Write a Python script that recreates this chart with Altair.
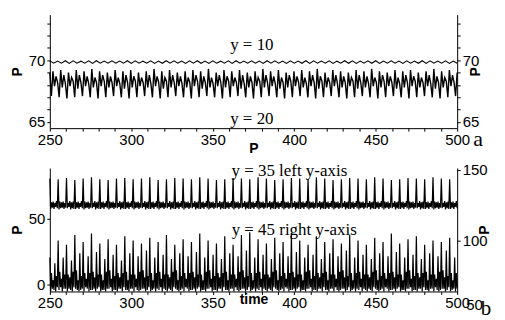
import altair as alt
import numpy as np
import pandas as pd

# ---------------- data ----------------
x_ticks = list(range(250, 501, 10))
top_y_ticks = list(range(65, 74))
bottom_left_ticks = [0, 50]
bottom_right_ticks = [100, 150]

# panel a, series y = 10 (small wiggle near 69.85)
p_y10 = [69.95, 69.76, 69.94, 69.77, 69.96, 69.75, 69.95, 69.77, 69.93, 69.76,
         69.95, 69.75, 69.96, 69.77, 69.94, 69.76, 69.95, 69.76, 69.94, 69.77,
         69.96, 69.75, 69.95, 69.76, 69.93, 69.77, 69.95, 69.75, 69.94, 69.76,
         69.96, 69.77, 69.95, 69.76, 69.94, 69.75, 69.95, 69.77, 69.96, 69.76,
         69.94, 69.75, 69.95, 69.77, 69.93, 69.76, 69.95, 69.75, 69.96, 69.77,
         69.94, 69.76, 69.95, 69.76, 69.94, 69.75, 69.96, 69.77, 69.95, 69.76,
         69.93, 69.75, 69.95, 69.77, 69.94, 69.76, 69.96, 69.75, 69.95, 69.77,
         69.94, 69.76, 69.95, 69.75, 69.93, 69.77, 69.96, 69.76, 69.95, 69.75,
         69.94, 69.77, 69.95, 69.76, 69.96, 69.75, 69.94, 69.77, 69.95, 69.76,
         69.93, 69.75, 69.95, 69.77, 69.94, 69.76, 69.96, 69.75, 69.95, 69.77,
         69.94, 69.76, 69.95, 69.75, 69.94, 69.76]

# panel a, series y = 20 (oscillation between ~67 and ~69.2)
p_y20 = [69.0, 67.1, 69.1, 67.9, 68.7, 68.2,
         67.0, 69.2, 67.8, 68.8, 68.1,
         66.9, 69.0, 67.9, 68.6, 68.3,
         67.0, 69.2, 67.7, 68.8, 68.2,
         67.1, 69.1, 67.9, 68.7, 68.1,
         67.0, 69.3, 67.8, 68.6, 68.2,
         66.9, 69.1, 67.9, 68.8, 68.3,
         67.0, 69.0, 67.8, 68.7, 68.2,
         67.1, 69.2, 67.9, 68.6, 68.1,
         67.0, 69.1, 67.7, 68.8, 68.2,
         66.9, 69.2, 67.8, 68.7, 68.3,
         67.0, 69.0, 67.9, 68.6, 68.2,
         67.1, 69.1, 67.8, 68.8, 68.1,
         67.0, 69.3, 67.9, 68.7, 68.2,
         66.9, 69.1, 67.7, 68.6, 68.3,
         67.0, 69.2, 67.8, 68.8, 68.2,
         67.1, 69.0, 67.9, 68.7, 68.1,
         67.0, 69.1, 67.8, 68.6, 68.2,
         66.9, 69.2, 67.9, 68.8, 68.3,
         67.0, 69.1, 67.7, 68.7, 68.2,
         67.1, 69.3, 67.8, 68.6, 68.1,
         67.0, 69.0, 67.9, 68.8, 68.2,
         66.9, 69.2, 67.8, 68.7, 68.3,
         67.0, 69.1, 67.9, 68.6, 68.2,
         67.1, 69.2, 67.7, 68.8, 68.1,
         67.0, 69.0, 67.8, 68.7, 68.2,
         66.9, 69.1, 67.9, 68.6, 68.3,
         67.0, 69.3, 67.8, 68.8, 68.2,
         67.1, 69.1, 67.9, 68.7, 68.1,
         67.0, 69.2, 67.7, 68.6, 68.2,
         66.9, 69.0, 67.8, 68.8, 68.3,
         67.0, 69.1, 67.9, 68.7, 68.2,
         67.1, 69.2, 67.8, 68.6, 68.1,
         67.0, 69.1, 67.9, 68.8, 68.2,
         66.9, 69.3, 67.7, 68.7, 68.3,
         67.0, 69.0, 67.8, 68.6, 68.2,
         67.1, 69.2, 67.9, 68.8, 68.1,
         67.0, 69.1, 67.8, 68.7, 68.2,
         66.9, 69.0, 67.9, 68.6, 68.3,
         67.0, 69.2, 67.7, 68.8, 68.2,
         67.1, 69.1, 67.8, 68.7, 68.1,
         67.0, 69.3, 67.9, 68.6, 68.2,
         66.9, 69.1, 67.8, 68.8, 68.3,
         67.0, 69.0, 67.9, 68.7, 68.2,
         67.1, 69.2, 67.7, 68.6, 68.1,
         67.0, 69.1, 67.8, 68.8, 68.2,
         66.9, 69.2, 67.9, 68.7, 68.3,
         67.0, 69.0, 67.8, 68.6, 68.2,
         67.1, 69.1, 67.9, 68.8, 68.1,
         67.0, 69.3, 67.7, 68.7, 68.2,
         66.9, 69.1, 67.8, 68.6, 68.3,
         67.0, 69.2, 67.9, 68.8, 68.2,
         67.1, 69.0]

# panel b, series y = 35 (left axis): thin spikes to ~80 over a 57-63 band
p_y35 = [
    80.5, 57.5, 62.5, 58.5, 63.0, 57.5, 62.0, 59.0, 63.5, 58.0,
    80.0, 57.0, 63.0, 58.0, 62.5, 58.5, 63.0, 57.5, 62.0, 58.5,
    81.0, 58.0, 62.0, 59.0, 63.5, 57.0, 62.5, 58.0, 63.0, 57.5,
    79.5, 57.5, 62.5, 58.5, 63.0, 57.5, 62.0, 59.0, 63.5, 58.0,
    80.5, 57.0, 63.0, 58.0, 62.5, 58.5, 63.0, 57.5, 62.0, 58.5,
    81.5, 58.0, 62.0, 59.0, 63.5, 57.0, 62.5, 58.0, 63.0, 57.5,
    80.0, 57.5, 62.5, 58.5, 63.0, 57.5, 62.0, 59.0, 63.5, 58.0,
    79.5, 57.0, 63.0, 58.0, 62.5, 58.5, 63.0, 57.5, 62.0, 58.5,
    80.5, 58.0, 62.0, 59.0, 63.5, 57.0, 62.5, 58.0, 63.0, 57.5,
    81.0, 57.5, 62.5, 58.5, 63.0, 57.5, 62.0, 59.0, 63.5, 58.0,
    80.0, 57.0, 63.0, 58.0, 62.5, 58.5, 63.0, 57.5, 62.0, 58.5,
    80.5, 58.0, 62.0, 59.0, 63.5, 57.0, 62.5, 58.0, 63.0, 57.5,
    81.5, 57.5, 62.5, 58.5, 63.0, 57.5, 62.0, 59.0, 63.5, 58.0,
    79.5, 57.0, 63.0, 58.0, 62.5, 58.5, 63.0, 57.5, 62.0, 58.5,
    80.0, 58.0, 62.0, 59.0, 63.5, 57.0, 62.5, 58.0, 63.0, 57.5,
    81.0, 57.5, 62.5, 58.5, 63.0, 57.5, 62.0, 59.0, 63.5, 58.0,
    80.5, 57.0, 63.0, 58.0, 62.5, 58.5, 63.0, 57.5, 62.0, 58.5,
    80.0, 58.0, 62.0, 59.0, 63.5, 57.0, 62.5, 58.0, 63.0, 57.5,
    81.5, 57.5, 62.5, 58.5, 63.0, 57.5, 62.0, 59.0, 63.5, 58.0,
    80.5, 57.0, 63.0, 58.0, 62.5, 58.5, 63.0, 57.5, 62.0, 58.5,
    79.5, 58.0, 62.0, 59.0, 63.5, 57.0, 62.5, 58.0, 63.0, 57.5,
    80.0, 57.5, 62.5, 58.5, 63.0, 57.5, 62.0, 59.0, 63.5, 58.0,
    81.0, 57.0, 63.0, 58.0, 62.5, 58.5, 63.0, 57.5, 62.0, 58.5,
    80.5, 58.0, 62.0, 59.0, 63.5, 57.0, 62.5, 58.0, 63.0, 57.5,
    80.0, 57.5, 62.5, 58.5, 63.0, 57.5, 62.0, 59.0, 63.5, 58.0,
    81.5, 57.0, 63.0, 58.0, 62.5, 58.5, 63.0, 57.5, 62.0, 58.5,
    80.5, 58.0, 62.0, 59.0, 63.5, 57.0, 62.5, 58.0, 63.0, 57.5,
    79.5, 57.5, 62.5, 58.5, 63.0, 57.5, 62.0, 59.0, 63.5, 58.0,
    80.0, 57.0, 63.0, 58.0, 62.5, 58.5, 63.0, 57.5, 62.0, 58.5,
    81.0, 58.0, 62.0, 59.0, 63.5, 57.0, 62.5, 58.0, 63.0, 57.5,
    80.5, 57.5, 62.5, 58.5, 63.0, 57.5, 62.0, 59.0, 63.5, 58.0,
    80.0, 57.0, 63.0, 58.0, 62.5, 58.5, 63.0, 57.5, 62.0, 58.5,
    81.5, 58.0, 62.0, 59.0, 63.5, 57.0, 62.5, 58.0, 63.0, 57.5,
    80.5, 57.5, 62.5, 58.5, 63.0, 57.5, 62.0, 59.0, 63.5, 58.0,
    79.5, 57.0, 63.0, 58.0, 62.5, 58.5, 63.0, 57.5, 62.0, 58.5,
    80.0, 58.0, 62.0, 59.0, 63.5, 57.0, 62.5, 58.0, 63.0, 57.5,
    81.0, 57.5, 62.5, 58.5, 63.0, 57.5, 62.0, 59.0, 63.5, 58.0,
    80.5, 57.0, 63.0, 58.0, 62.5, 58.5, 63.0, 57.5, 62.0, 58.5,
    80.0, 58.0, 62.0, 59.0, 63.5, 57.0, 62.5, 58.0, 63.0, 57.5,
    81.5, 57.5, 62.5, 58.5, 63.0, 57.5, 62.0, 59.0, 63.5, 58.0,
    80.5, 57.0, 63.0, 58.0, 62.5, 58.5, 63.0, 57.5, 62.0, 58.5,
    79.5, 58.0, 62.0, 59.0, 63.5, 57.0, 62.5, 58.0, 63.0, 57.5,
    80.0, 57.5, 62.5, 58.5, 63.0, 57.5, 62.0, 59.0, 63.5, 58.0,
    81.0, 57.0, 63.0, 58.0, 62.5, 58.5, 63.0, 57.5, 62.0, 58.5,
    80.5, 58.0, 62.0, 59.0, 63.5, 57.0, 62.5, 58.0, 63.0, 57.5,
    80.0, 57.5, 62.5, 58.5, 63.0, 57.5, 62.0, 59.0, 63.5, 58.0,
    81.5, 57.0, 63.0, 58.0, 62.5, 58.5, 63.0, 57.5, 62.0, 58.5,
    80.5, 58.0, 62.0, 59.0, 63.5, 57.0, 62.5, 58.0, 63.0, 57.5,
    80.0, 57.5, 62.5, 58.5, 63.0, 57.5, 62.0, 59.0, 63.5, 58.0,
]

# panel b, series y = 45 (right axis): tall and medium spikes over a 64-80 band
p_y45 = [
    88, 64, 77, 66, 72, 65, 84, 64, 75, 67,
    100, 65, 78, 67, 73, 64, 88, 66, 76, 66,
    97, 64, 76, 66, 74, 65, 86, 64, 78, 67,
    104, 66, 79, 65, 72, 64, 91, 65, 75, 66,
    99, 64, 77, 67, 73, 66, 89, 64, 77, 65,
    105, 65, 78, 66, 74, 64, 92, 66, 76, 67,
    98, 64, 76, 65, 72, 65, 87, 64, 78, 66,
    101, 66, 79, 67, 73, 64, 90, 65, 75, 65,
    97, 64, 77, 66, 74, 66, 86, 64, 77, 67,
    103, 65, 78, 65, 72, 64, 91, 66, 76, 66,
    100, 64, 76, 67, 73, 65, 89, 64, 78, 65,
    98, 66, 79, 66, 74, 64, 93, 65, 75, 67,
    102, 64, 77, 65, 72, 66, 88, 64, 77, 66,
    99, 65, 78, 67, 73, 64, 90, 66, 76, 65,
    104, 64, 76, 66, 74, 65, 87, 64, 78, 67,
    97, 66, 79, 65, 72, 64, 91, 65, 75, 66,
    101, 64, 77, 67, 73, 66, 89, 64, 77, 65,
    99, 65, 78, 66, 74, 64, 92, 66, 76, 67,
    105, 64, 76, 65, 72, 65, 88, 64, 78, 66,
    100, 66, 79, 67, 73, 64, 90, 65, 75, 65,
    98, 64, 77, 66, 74, 66, 87, 64, 77, 67,
    103, 65, 78, 65, 72, 64, 91, 66, 76, 66,
    97, 64, 76, 67, 73, 65, 89, 64, 78, 65,
    104, 66, 79, 66, 74, 64, 93, 65, 75, 67,
    106, 64, 77, 65, 72, 66, 88, 64, 77, 66,
    101, 65, 78, 67, 73, 64, 90, 66, 76, 65,
    98, 64, 76, 66, 74, 65, 87, 64, 78, 67,
    102, 66, 79, 65, 72, 64, 91, 65, 75, 66,
    99, 64, 77, 67, 73, 66, 89, 64, 77, 65,
    105, 65, 78, 66, 74, 64, 92, 66, 76, 67,
    100, 64, 76, 65, 72, 65, 88, 64, 78, 66,
    97, 66, 79, 67, 73, 64, 90, 65, 75, 65,
    103, 64, 77, 66, 74, 66, 87, 64, 77, 67,
    99, 65, 78, 65, 72, 64, 91, 66, 76, 66,
    101, 64, 76, 67, 73, 65, 89, 64, 78, 65,
    98, 66, 79, 66, 74, 64, 93, 65, 75, 67,
    104, 64, 77, 65, 72, 66, 88, 64, 77, 66,
    100, 65, 78, 67, 73, 64, 90, 66, 76, 65,
    97, 64, 76, 66, 74, 65, 87, 64, 78, 67,
    102, 66, 79, 65, 72, 64, 91, 65, 75, 66,
    99, 64, 77, 67, 73, 66, 89, 64, 77, 65,
    105, 65, 78, 66, 74, 64, 92, 66, 76, 67,
    98, 64, 76, 65, 72, 65, 88, 64, 78, 66,
    101, 66, 79, 67, 73, 64, 90, 65, 75, 65,
    103, 64, 77, 66, 74, 66, 87, 64, 77, 67,
    97, 65, 78, 65, 72, 64, 91, 66, 76, 66,
    100, 64, 76, 67, 73, 65, 89, 64, 78, 65,
    99, 66, 79, 66, 74, 64, 93, 65, 75, 67,
    102, 64, 77, 65, 72, 66, 88, 64, 77, 66,
]

top_labels = ["y = 10", "y = 20"]
top_label_time = [374, 374]
top_label_p = [71.2, 65.2]
bot_labels = ["y = 35 left y-axis", "y = 45 right y-axis"]
bot_label_time = [397, 400]
bot_label_p = [86.4, 41.7]

# ---------------- tables ----------------
df10 = pd.DataFrame({"time": np.linspace(250, 500, len(p_y10)), "P": p_y10})
df20 = pd.DataFrame({"time": np.linspace(250, 500, len(p_y20)), "P": p_y20})
df35 = pd.DataFrame({"time": np.linspace(250, 500, len(p_y35)), "P": p_y35})
df45 = pd.DataFrame({"time": np.linspace(250, 500, len(p_y45)), "P": p_y45})
dft = pd.DataFrame({"time": top_label_time, "P": top_label_p, "txt": top_labels})
dfb = pd.DataFrame({"time": bot_label_time, "P": bot_label_p, "txt": bot_labels})

W = 409
H_TOP = 114
H_BOT = 124
SANS = "Liberation Sans"
SERIF = "Liberation Serif"

TOP_DOM = [64.5, 73.7]
BL_DOM = [-5.3, 88.6]
BR_DOM = [64, 151.4]

xs = alt.Scale(domain=[250, 500], nice=False, zero=False)


def x_axis(title, title_y):
    return alt.Axis(values=x_ticks, title=title, titleY=title_y, titleBaseline="top",
                    labelExpr="datum.value % 50 == 0 ? datum.label : ''",
                    tickSize=3, labelPadding=1, labelFlush=False, labelOverlap=False,
                    grid=False)


def y_axis(orient, values, show_every=None):
    kw = dict(orient=orient, values=values, title="P", titleAngle=270, tickSize=3,
              labelPadding=2, labelOverlap=False, labelFlush=False, titlePadding=4,
              grid=False)
    if show_every:
        kw["labelExpr"] = f"datum.value % {show_every} == 0 ? datum.label : ''"
    return alt.Axis(**kw)


XA = x_axis("P", 13)
XB = x_axis("time", 1)

# ---- panel a ----
ya = alt.Scale(domain=TOP_DOM, nice=False, zero=False)
a10 = alt.Chart(df10).mark_line(color="black", strokeWidth=1.1).encode(
    x=alt.X("time:Q", scale=xs, axis=XA),
    y=alt.Y("P:Q", scale=ya, axis=y_axis("left", top_y_ticks, 5)),
)
a20 = alt.Chart(df20).mark_line(color="black", strokeWidth=1.4).encode(
    x=alt.X("time:Q", scale=xs, axis=XA),
    y=alt.Y("P:Q", scale=ya, axis=y_axis("right", top_y_ticks, 5)),
)
atext = alt.Chart(dft).mark_text(font=SERIF, fontSize=17, color="black", baseline="middle").encode(
    x=alt.X("time:Q", scale=xs, axis=XA),
    y=alt.Y("P:Q", scale=ya, axis=None),
    text="txt:N",
)
aletter = alt.Chart(pd.DataFrame({"t": ["a"]})).mark_text(
    font=SERIF, fontSize=22, color="black", baseline="middle", align="center"
).encode(x=alt.value(430), y=alt.value(125), text="t:N")

panel_a = alt.layer(a10, a20, atext, aletter).resolve_scale(y="independent").properties(
    width=W, height=H_TOP)

# ---- panel b ----
ybl = alt.Scale(domain=BL_DOM, nice=False, zero=False)
ybr = alt.Scale(domain=BR_DOM, nice=False, zero=False)
b35 = alt.Chart(df35).mark_line(color="black", strokeWidth=1.2).encode(
    x=alt.X("time:Q", scale=xs, axis=XB),
    y=alt.Y("P:Q", scale=ybl, axis=y_axis("left", bottom_left_ticks)),
)
b45 = alt.Chart(df45).mark_line(color="black", strokeWidth=1.2).encode(
    x=alt.X("time:Q", scale=xs, axis=XB),
    y=alt.Y("P:Q", scale=ybr, axis=y_axis("right", bottom_right_ticks)),
)
btext = alt.Chart(dfb).mark_text(font=SERIF, fontSize=17, color="black", baseline="middle").encode(
    x=alt.X("time:Q", scale=xs, axis=XB),
    y=alt.Y("P:Q", scale=ybl, axis=None),
    text="txt:N",
)
bextra = alt.Chart(pd.DataFrame({"t": ["50"]})).mark_text(
    font=SANS, fontSize=15, color="black", baseline="middle", align="left"
).encode(x=alt.value(418), y=alt.value(138), text="t:N")
bletter = alt.Chart(pd.DataFrame({"t": ["b"]})).mark_text(
    font=SERIF, fontSize=21, color="black", baseline="middle", align="center"
).encode(x=alt.value(438), y=alt.value(142), text="t:N")

panel_b = alt.layer(b35, b45, btext, bextra, bletter).resolve_scale(y="independent").properties(
    width=W, height=H_BOT)

chart = alt.vconcat(panel_a, panel_b, spacing=40, bounds="flush").properties(
    padding={"left": 2, "top": 6, "right": 5, "bottom": 2}
).configure(background="white").configure_view(stroke=None).configure_axis(
    grid=False, domainColor="black", tickColor="black", labelColor="black",
    titleColor="black", labelFont=SANS, labelFontSize=15, titleFont=SANS,
    titleFontSize=14, titleFontWeight="bold", domainWidth=1
)

chart.save("out.html", embed_options={"renderer": "svg", "actions": False})
